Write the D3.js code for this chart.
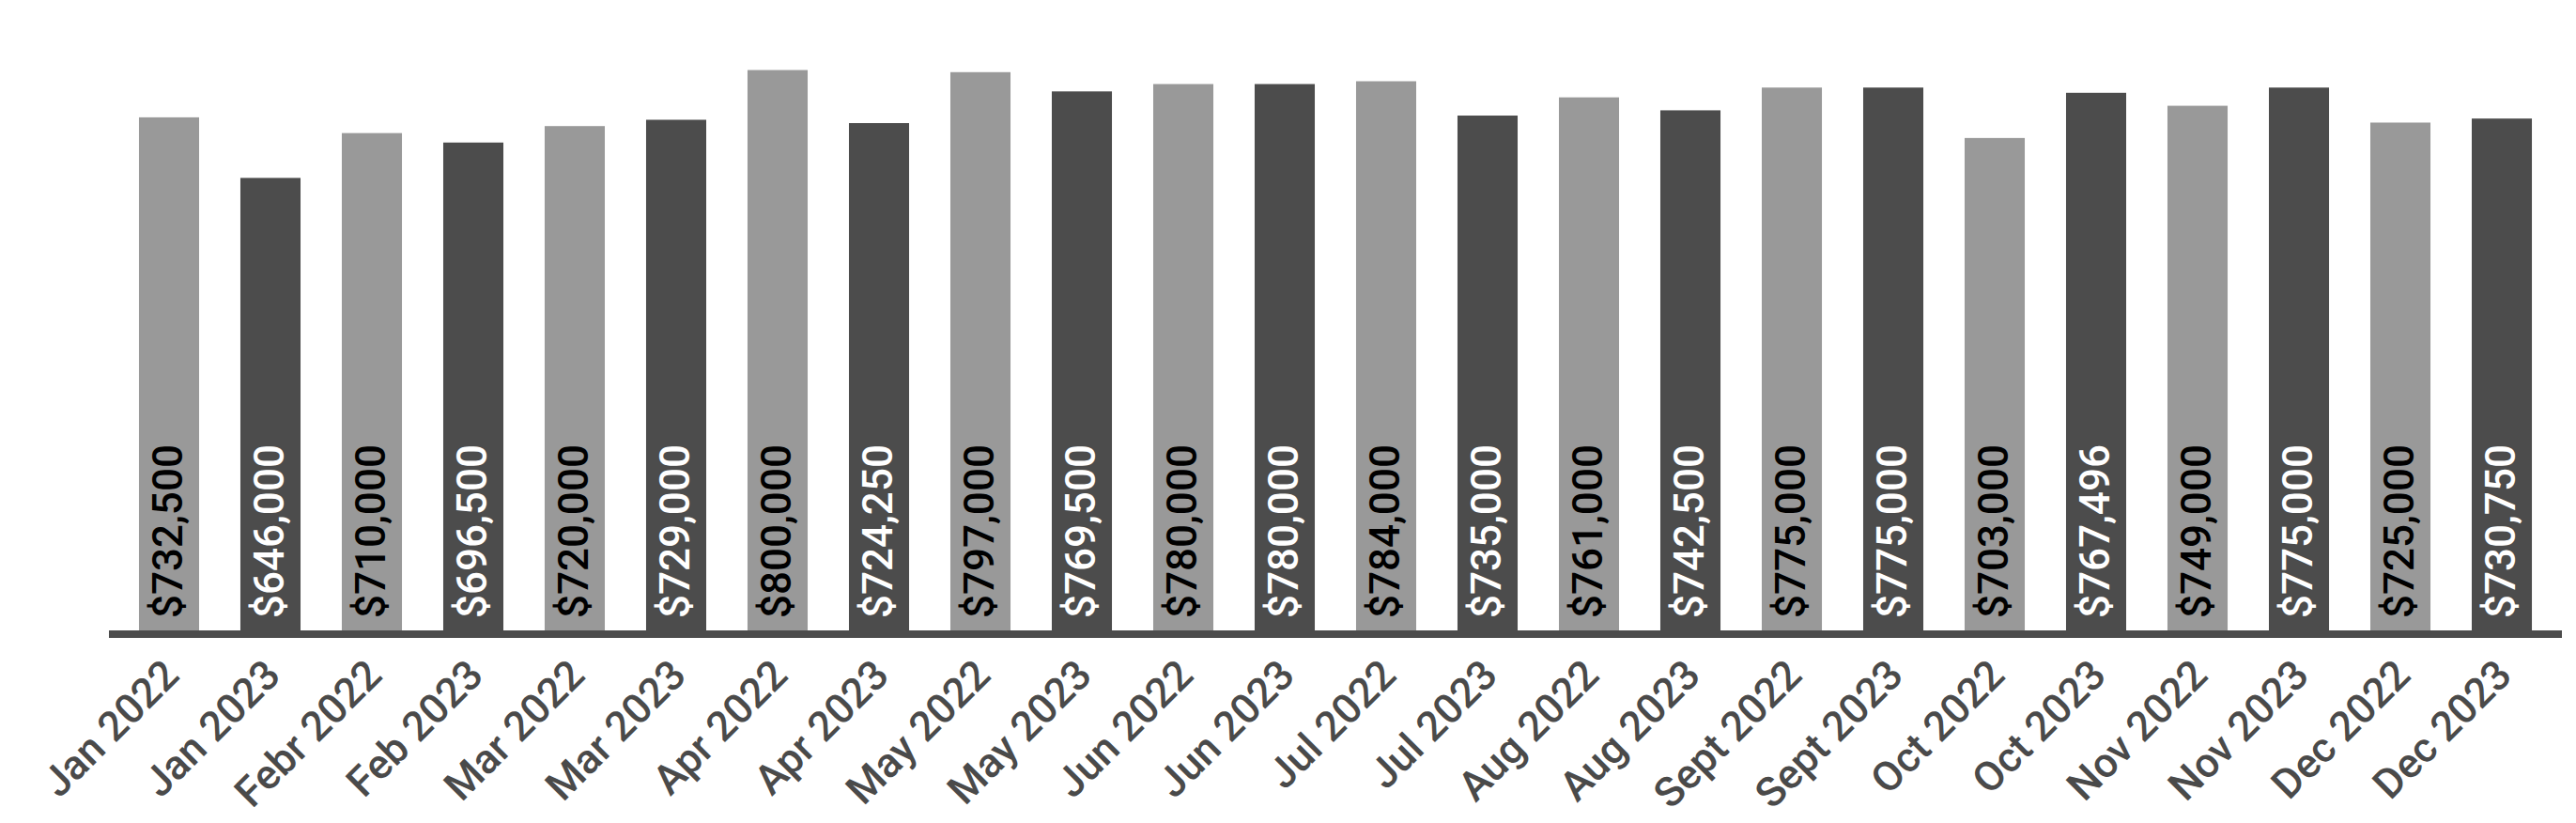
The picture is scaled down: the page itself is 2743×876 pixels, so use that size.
<!DOCTYPE html>
<html>
<head>
<meta charset="utf-8">
<script src="https://cdn.jsdelivr.net/npm/d3@7"></script>
<style>
  html, body { margin: 0; padding: 0; background: #fff; }
  svg { display: block; }
</style>
</head>
<body>
<script>
const months = [
  'Jan 2022', 'Jan 2023', 'Febr 2022', 'Feb 2023', 'Mar 2022', 'Mar 2023',
  'Apr 2022', 'Apr 2023', 'May 2022', 'May 2023', 'Jun 2022', 'Jun 2023',
  'Jul 2022', 'Jul 2023', 'Aug 2022', 'Aug 2023', 'Sept 2022', 'Sept 2023',
  'Oct 2022', 'Oct 2023', 'Nov 2022', 'Nov 2023', 'Dec 2022', 'Dec 2023'
];
const prices = [
  732500, 646000, 710000, 696500, 720000, 729000,
  800000, 724250, 797000, 769500, 780000, 780000,
  784000, 735000, 761000, 742500, 775000, 775000,
  703000, 767496, 749000, 775000, 725000, 730750
];
const years = ['2022', '2023'];

const width = 2743;
const height = 876;
const baseY = 671;
const light = '#999999';
const dark = '#4c4c4c';

const data = months.map((m, i) => ({ month: m, price: prices[i], year: m.slice(-4) }));

const svg = d3
  .select('body')
  .append('svg')
  .attr('width', width)
  .attr('height', height);

const x = d3
  .scaleBand()
  .domain(months)
  .range([116, 2728])
  .paddingInner(0.407)
  .paddingOuter(0.296);

const y = d3.scaleLinear().domain([0, 900000]).range([baseY, 0]);

const colour = d3.scaleOrdinal().domain(years).range([light, dark]);
const textColour = d3.scaleOrdinal().domain(years).range(['#000000', '#ffffff']);

svg
  .selectAll('.bar')
  .data(data)
  .enter()
  .append('rect')
  .attr('class', 'bar')
  .attr('x', d => x(d.month))
  .attr('y', d => y(d.price))
  .attr('width', x.bandwidth())
  .attr('height', d => y(0) - y(d.price))
  .attr('fill', d => colour(d.year));

const fmt = d3.format('$,');

svg
  .selectAll('.value')
  .data(data)
  .enter()
  .append('text')
  .attr('class', 'value')
  .attr('transform', d => `translate(${x(d.month) + x.bandwidth() / 2 + 14}, ${baseY - 13}) rotate(-90)`)
  .attr('font-family', 'Roboto')
  .attr('font-weight', 500)
  .attr('font-size', 44)
  .attr('fill', d => textColour(d.year))
  .text(d => fmt(d.price));

// x axis, thick dark baseline
const xAxis = d3.axisBottom(x).tickSize(0).tickPadding(0);

const axisG = svg
  .append('g')
  .attr('id', 'x-axis')
  .attr('transform', `translate(0, ${baseY})`)
  .call(xAxis);

axisG.select('.domain').remove();

axisG
  .append('rect')
  .attr('x', x.range()[0])
  .attr('y', 0)
  .attr('width', x.range()[1] - x.range()[0])
  .attr('height', 8)
  .attr('fill', '#4c4c4c');

axisG
  .selectAll('.tick text')
  .attr('x', 0)
  .attr('y', 0)
  .attr('dy', 0)
  .attr('text-anchor', 'end')
  .attr('font-family', 'Roboto')
  .attr('font-weight', 500)
  .attr('font-size', 44)
  .attr('fill', '#4a4a4a')
  .attr('transform', 'translate(13, 50) rotate(-45)');
</script>
</body>
</html>
